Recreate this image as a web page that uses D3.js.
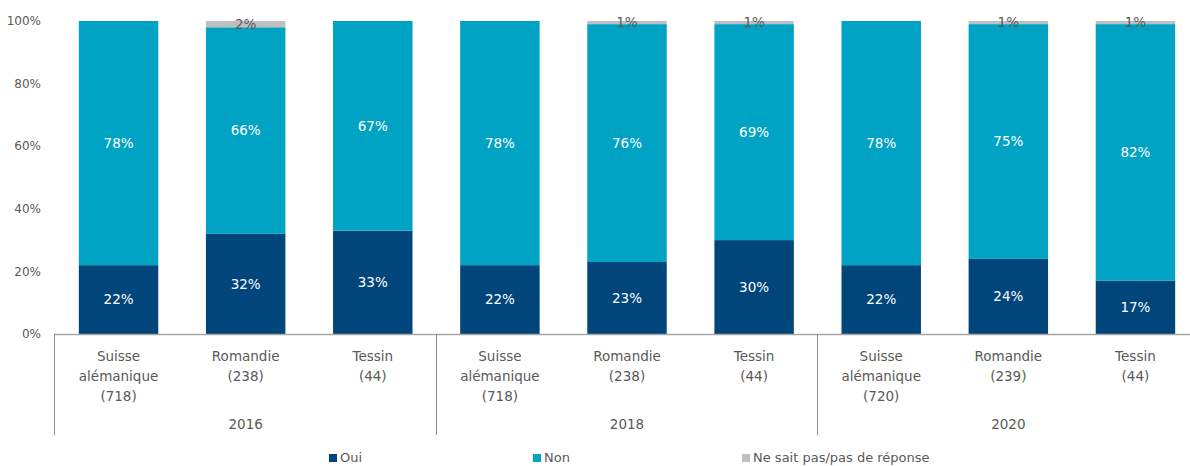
<!DOCTYPE html>
<html><head><meta charset="utf-8">
<script src="https://cdn.jsdelivr.net/npm/d3@7"></script>
<style>body{margin:0;background:#fff;} svg{display:block;font-family:"DejaVu Sans",Verdana,sans-serif;}</style>
</head><body><svg id="c" width="1190" height="466"></svg>
<script>
const years = ["2016","2018","2020"];
const regions = ["Suisse alémanique","Romandie","Tessin","Suisse alémanique","Romandie","Tessin","Suisse alémanique","Romandie","Tessin"];
const sampleSizes = ["718","238","44","718","238","44","720","239","44"];
const oui = [22,32,33,22,23,30,22,24,17];
const non = [78,66,67,78,76,69,78,75,82];
const nsp = [0,2,0,0,1,1,0,1,1];
const seriesNames = ["Oui","Non","Ne sait pas/pas de réponse"];
const colors = ["#00467a","#00a3c3","#bfbfbf"];
const yTicks = [0,20,40,60,80,100];

const svg = d3.select("#c");
const x = d3.scaleBand().domain(d3.range(9)).range([55,1199]).paddingInner(0.375).paddingOuter(0.1875);
const y = d3.scaleLinear().domain([0,100]).range([334,21]);

const rows = d3.range(9).map(i => ({i, Oui:oui[i], Non:non[i], NSP:nsp[i]}));
const stack = d3.stack().keys(["Oui","Non","NSP"])(rows);

stack.forEach((layer, k) => {
  svg.append("g").selectAll("rect").data(layer.filter(d => d[1]-d[0] > 0)).join("rect")
    .attr("x", d => x(d.data.i)).attr("width", x.bandwidth())
    .attr("y", d => y(d[1])).attr("height", d => y(d[0]) - y(d[1]))
    .attr("fill", colors[k]);
});
stack.forEach((layer, k) => {
  svg.append("g").selectAll("text").data(layer.filter(d => d[1]-d[0] > 0)).join("text")
    .attr("x", d => x(d.data.i) + x.bandwidth()/2)
    .attr("y", d => y((d[0]+d[1])/2))
    .attr("dy", "0.35em").attr("text-anchor","middle")
    .attr("font-size", 13.5).attr("fill", k===2 ? "#595959" : "#fff")
    .text(d => (d[1]-d[0]) + "%");
});

// y axis labels
svg.append("g").selectAll("text").data(yTicks).join("text")
  .attr("x", 41).attr("y", d => y(d)).attr("dy","0.35em").attr("text-anchor","end")
  .attr("font-size", 12).attr("fill","#595959").text(d => d + "%");

// x axis line
svg.append("line").attr("x1",54).attr("x2",1199).attr("y1",334.5).attr("y2",334.5)
  .attr("stroke","#a6a6a6").attr("stroke-width",1.5);
// group separators
[54.5,436.5,817.5].forEach(sx => {
  svg.append("line").attr("x1",sx).attr("x2",sx).attr("y1",334).attr("y2",435)
    .attr("stroke","#8c8c8c").attr("stroke-width",1);
});

// category labels
const cat = svg.append("g").attr("font-size",13.5).attr("fill","#595959").attr("text-anchor","middle");
regions.forEach((r,i) => {
  const cx = x(i) + x.bandwidth()/2;
  const words = r.split(" ");
  const lines = [...words, "("+sampleSizes[i]+")"];
  const t = cat.append("text").attr("x",cx).attr("y",361);
  lines.forEach((l,j) => t.append("tspan").attr("x",cx).attr("y",361 + j*20).text(l));
});
years.forEach((yr,g) => {
  const cx = x(g*3+1) + x.bandwidth()/2;
  cat.append("text").attr("x",cx).attr("y",429).text(yr);
});

// legend
const legX = [329, 533, 742];
seriesNames.forEach((n,k) => {
  svg.append("rect").attr("x",legX[k]).attr("y",454).attr("width",8).attr("height",8).attr("fill",colors[k]);
  svg.append("text").attr("x",legX[k]+11).attr("y",462).attr("font-size",13).attr("fill","#595959").text(n);
});
</script></body></html>
